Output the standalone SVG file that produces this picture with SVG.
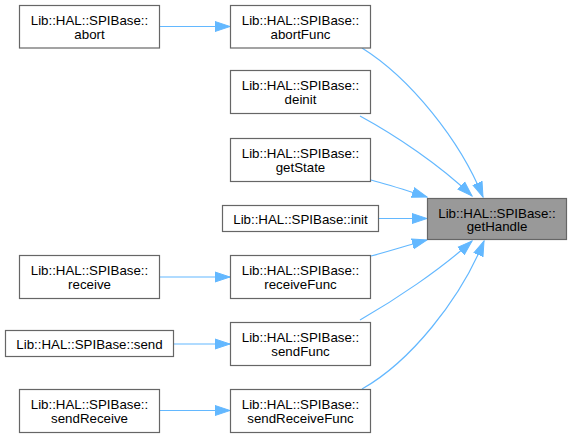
<svg xmlns="http://www.w3.org/2000/svg" width="573" height="437" viewBox="0 0 573 437">
<style>
.n rect{fill:#ffffff;stroke:#666666;stroke-width:1.2}
.n.hl rect{fill:#999999}
.n text{font-family:"Liberation Sans",Arial,sans-serif;font-size:13.3px;fill:#000000;text-anchor:middle}
.e path{fill:none;stroke:#63b8ff;stroke-width:1.2;marker-end:url(#ah)}
</style>
<defs>
<marker id="ah" markerUnits="userSpaceOnUse" markerWidth="16" markerHeight="12" viewBox="0 0 16 12" refX="15" refY="6" orient="auto">
<path d="M0,1 L15,6 L0,11 Z" fill="#63b8ff" stroke="#63b8ff" stroke-width="1"/>
</marker>
</defs>
<rect width="573" height="437" fill="#ffffff"/>
<g id="edges" class="e">
<path d="M160,26.5 L230,26.5"/>
<path d="M160,277 L230,277"/>
<path d="M174,344 L230,344"/>
<path d="M160,410.5 L230,410.5"/>
<path d="M362,48 C410,78 460,140 483,197"/>
<path d="M360,116 C395,135 440,165 472,196"/>
<path d="M371,180 C390,185 405,190 427,197"/>
<path d="M379,218.5 L427,218.5"/>
<path d="M371,256 C390,251 405,246 427,240"/>
<path d="M360,320 C395,300 440,270 472,241"/>
<path d="M362,389 C410,362 460,300 484,241"/>
</g>
<g id="node_abort" class="n"><rect x="19.5" y="5.5" width="140" height="42.5"/><text x="89.5" y="25">Lib::HAL::SPIBase::</text><text x="89.5" y="38.5">abort</text></g>
<g id="node_receive" class="n"><rect x="19.5" y="255.5" width="140" height="43"/><text x="89.5" y="275">Lib::HAL::SPIBase::</text><text x="89.5" y="288.5">receive</text></g>
<g id="node_send" class="n"><rect x="5.5" y="330.5" width="168" height="26"/><text x="89.5" y="348.5">Lib::HAL::SPIBase::send</text></g>
<g id="node_sendReceive" class="n"><rect x="19.5" y="389.5" width="140" height="43"/><text x="89.5" y="409">Lib::HAL::SPIBase::</text><text x="89.5" y="422.5">sendReceive</text></g>
<g id="node_abortFunc" class="n"><rect x="230.5" y="5.5" width="140" height="42.5"/><text x="300.5" y="25">Lib::HAL::SPIBase::</text><text x="300.5" y="38.5">abortFunc</text></g>
<g id="node_deinit" class="n"><rect x="230.5" y="70.5" width="140" height="43"/><text x="300.5" y="90">Lib::HAL::SPIBase::</text><text x="300.5" y="103.5">deinit</text></g>
<g id="node_getState" class="n"><rect x="230.5" y="138.5" width="140" height="43"/><text x="300.5" y="158">Lib::HAL::SPIBase::</text><text x="300.5" y="171.5">getState</text></g>
<g id="node_init" class="n"><rect x="222.5" y="205.5" width="156" height="26"/><text x="300.5" y="223.5">Lib::HAL::SPIBase::init</text></g>
<g id="node_receiveFunc" class="n"><rect x="230.5" y="255.5" width="140" height="43"/><text x="300.5" y="275">Lib::HAL::SPIBase::</text><text x="300.5" y="288.5">receiveFunc</text></g>
<g id="node_sendFunc" class="n"><rect x="230.5" y="322.5" width="140" height="43"/><text x="300.5" y="342">Lib::HAL::SPIBase::</text><text x="300.5" y="355.5">sendFunc</text></g>
<g id="node_sendReceiveFunc" class="n"><rect x="230.5" y="389.5" width="140" height="43"/><text x="300.5" y="409">Lib::HAL::SPIBase::</text><text x="300.5" y="422.5">sendReceiveFunc</text></g>
<g id="node_getHandle" class="n hl"><rect x="427.5" y="198.5" width="139" height="41"/><text x="497" y="217.5">Lib::HAL::SPIBase::</text><text x="497" y="231">getHandle</text></g>
</svg>
